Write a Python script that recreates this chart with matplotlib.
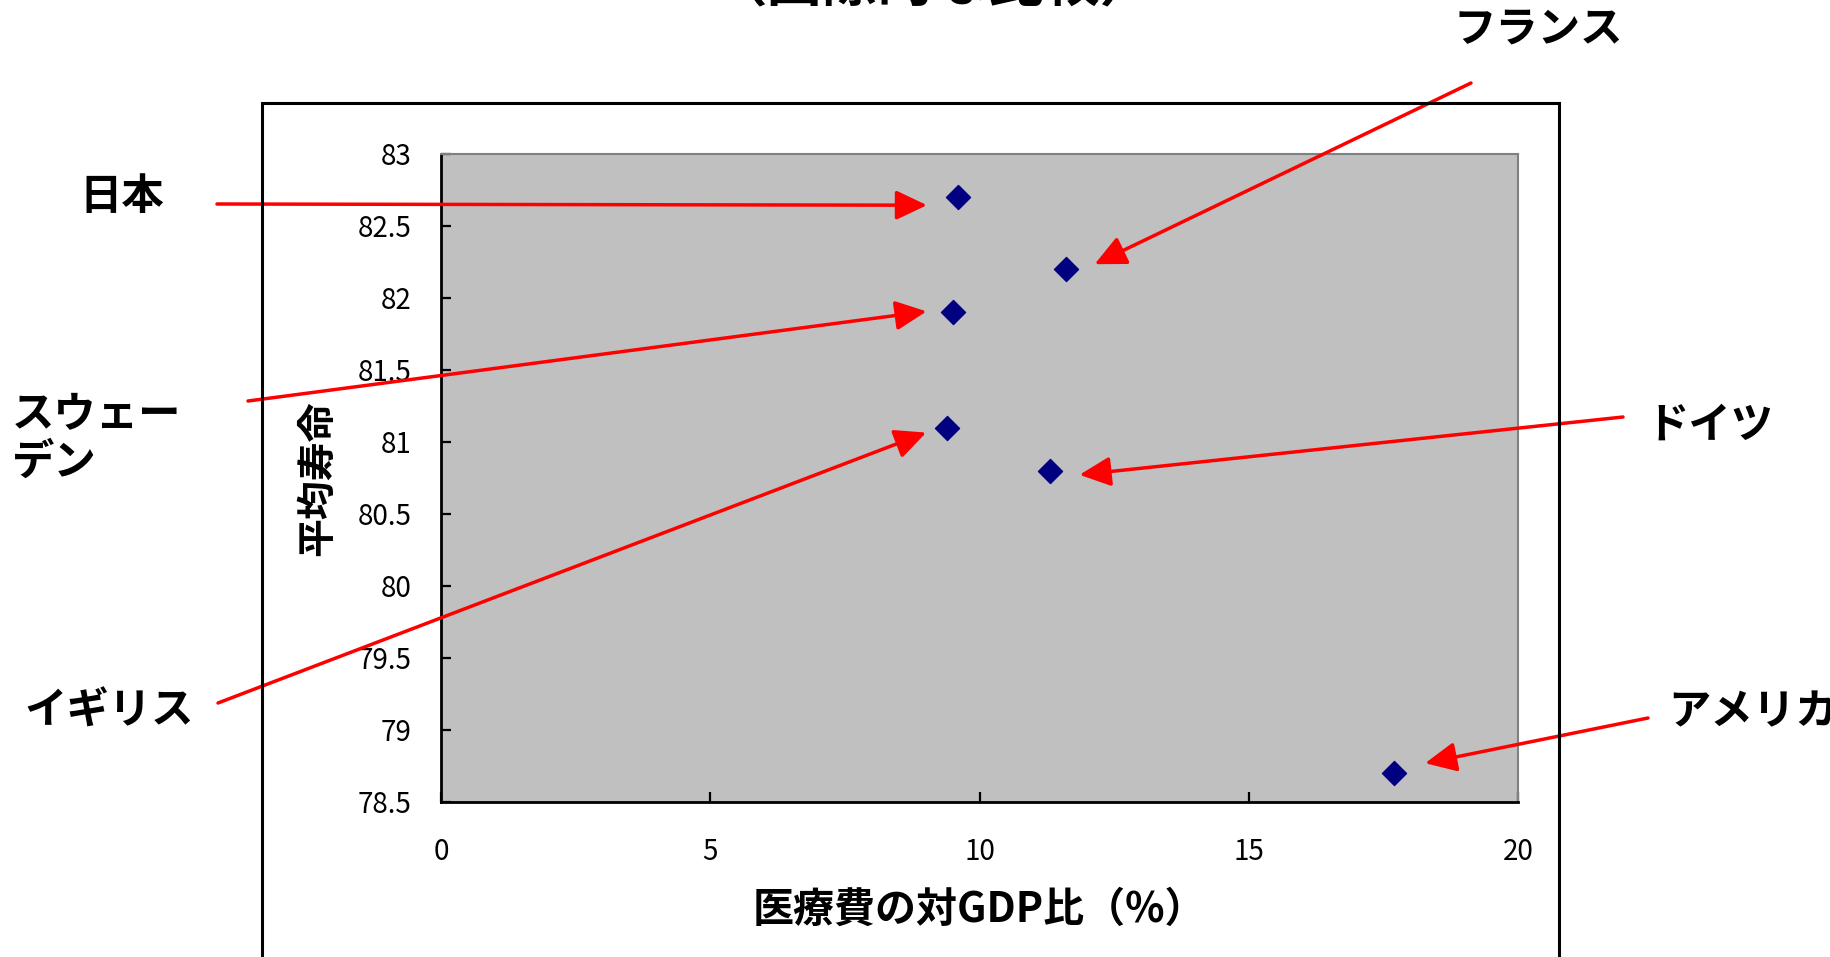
import matplotlib
matplotlib.use("Agg")
import matplotlib.pyplot as plt
from matplotlib.patches import Rectangle
from matplotlib.transforms import offset_copy

plt.rcParams['font.family'] = ['Noto Sans CJK JP', 'DejaVu Sans']

'''
Data (OECD, health spending vs life expectancy)
'''
countries = ["日本", "フランス", "スウェー\nデン", "イギリス", "ドイツ", "アメリカ"]
gdp_share = [9.6, 11.6, 9.5, 9.4, 11.3, 17.7]
life_exp = [82.7, 82.2, 81.9, 81.1, 80.8, 78.7]

xticks = [0, 5, 10, 15, 20]
yticks = [78.5, 79, 79.5, 80, 80.5, 81, 81.5, 82, 82.5, 83]

'''
Layout of the callouts (figure pixels, measured from the top-left)
'''
W, H = 1831, 957
label_pos = [(122, 197), (1538, 30), (12, 439), (109, 712), (1646, 426), (1668, 712)]
label_ha = ["center", "center", "left", "center", "left", "left"]
arrow_tail = [(217, 204), (1471, 83), (248, 401), (218, 703), (1623, 417), (1648, 718)]
# arrow tip offset from the point, in pixels (x right, y up)
tip_offset = [(-31, -8), (29, 5), (-26, 1), (-21, -5), (30, -4), (31, 10)]

fig = plt.figure(figsize=(W / 100, H / 100), dpi=100)
fig.patch.set_facecolor("white")

# outer chart frame (bottom runs off the picture)
fig.add_artist(Rectangle((262 / W, -0.05), (1559 - 262) / W, 1 - 103 / H + 0.05,
                         transform=fig.transFigure, fill=False, edgecolor="black", lw=2.2))

ax = fig.add_axes([441 / W, 1 - 802 / H, (1518 - 441) / W, (802 - 154) / H])
ax.set_facecolor("#C0C0C0")
ax.scatter(gdp_share, life_exp, marker="D", s=150, color="#000080", zorder=3)

ax.set_xlim(0, 20)
ax.set_ylim(78.5, 83)
ax.set_xticks(xticks)
ax.set_xticklabels([str(t) for t in xticks])
ax.set_yticks(yticks)
ax.set_yticklabels(["%g" % t for t in yticks])
ax.tick_params(axis="x", direction="in", length=7, width=1.6, labelsize=20, pad=25)
ax.tick_params(axis="y", direction="in", length=7, width=1.6, labelsize=20, pad=21)

for s in ["left", "bottom"]:
    ax.spines[s].set_color("black")
    ax.spines[s].set_linewidth(2)
for s in ["top", "right"]:
    ax.spines[s].set_color("#808080")
    ax.spines[s].set_linewidth(1.5)

ax.set_xlabel("医療費の対GDP比（%）", fontsize=29.5, fontweight="bold", labelpad=16)
ax.set_ylabel("平均寿命", fontsize=28, fontweight="bold", labelpad=15)

# title (only its lower edge is inside the picture)
fig.text(933 / W, 1 - 1 / H, "（国際的な比較）", fontsize=40, fontweight="bold",
         ha="center", va="baseline")

for i, name in enumerate(countries):
    tip = offset_copy(ax.transData, fig=fig, x=tip_offset[i][0], y=tip_offset[i][1], units="dots")
    ax.annotate("", xy=(gdp_share[i], life_exp[i]), xycoords=tip,
                xytext=(arrow_tail[i][0], H - arrow_tail[i][1]), textcoords="figure pixels",
                arrowprops=dict(arrowstyle="-|>,head_length=0.95,head_width=0.45", color="red",
                                lw=2.5, mutation_scale=20, shrinkA=0, shrinkB=0),
                annotation_clip=False)
    fig.text(label_pos[i][0] / W, 1 - label_pos[i][1] / H, name, fontsize=30.5, fontweight="bold",
             ha=label_ha[i], va="center", linespacing=1.2)

fig.savefig("out.png", dpi=100)
